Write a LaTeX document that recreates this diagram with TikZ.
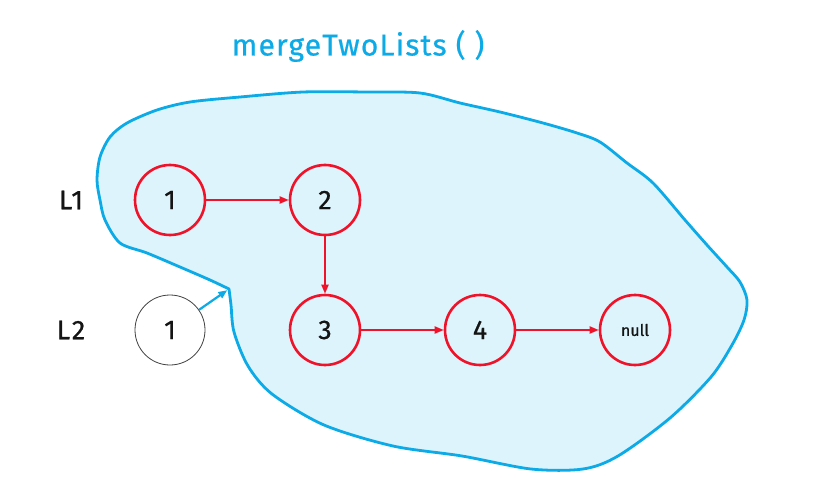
\documentclass[tikz,border=0pt]{standalone}
\usepackage{fontspec}
\setmainfont{Fira Sans}[FakeBold=0.6]
\usetikzlibrary{arrows.meta}
\definecolor{blobline}{RGB}{12,170,230}
\definecolor{blobfill}{RGB}{221,244,252}
\definecolor{nodered}{RGB}{240,18,40}
\definecolor{txt}{RGB}{20,20,20}
\begin{document}
\begin{tikzpicture}[x=1pt,y=-1pt,
  listnode/.style={circle,draw=nodered,line width=2.6pt,minimum size=70pt,inner sep=0pt,text=txt,font=\fontsize{27}{27}\selectfont},
  plainnode/.style={circle,draw=black!75,line width=0.8pt,minimum size=70pt,inner sep=0pt,fill=white,text=txt,font=\fontsize{27}{27}\selectfont},
  link/.style={draw=nodered,line width=2pt,-{Triangle[length=9pt,width=7pt]}},
  lbl/.style={text=txt,font=\fontsize{27}{27}\selectfont\addfontfeatures{LetterSpace=8}},
  titlestyle/.style={text=blobline,font=\fontsize{30}{30}\selectfont\addfontfeatures{LetterSpace=4}}]
\useasboundingbox (0,0) rectangle (814,492);
\fill[white] (0,0) rectangle (814,492);
\draw[blobline, fill=blobfill, line width=2.8pt, line join=round]
  plot[smooth, tension=0.5] coordinates {
  (229,289) (231,305) (234,332) (248,366) (272,394) (324,425) (393,446) (462,456)
  (531,469) (583,469) (618,456) (670,418) (711,377) (732,345) (744,320) (747,300)
  (740,282) (727,267) (707,245) (685,220) (653,183) (627,163) (600,142) (577,133)
  (543,123) (500,112) (460,103) (420,93) (367,92) (303,92) (240,97) (190,102)
  (157,110) (127,123) (110,137) (100,157) (97,180) (100,200) (105,220) (120,243)
  (147,253) (180,267) (210,280) (229,289)} -- cycle;
\node[titlestyle] (title) at (358,46) {mergeTwoLists ( )};
\node[lbl] (L1) at (71,200) {L1};
\node[lbl] (L2) at (71,330) {L2};
\node[listnode] (a1) at (170,200) {1};
\node[listnode] (a2) at (325,200) {2};
\node[listnode] (a3) at (325,330) {3};
\node[listnode] (a4) at (480,330) {4};
\node[listnode, font=\fontsize{16}{16}\selectfont] (nl) at (635,330) {null};
\node[plainnode] (b1) at (170,330) {1};
\coordinate (notch) at (229,289);
\draw[link] (a1) -- (a2);
\draw[link] (a2) -- (a3);
\draw[link] (a3) -- (a4);
\draw[link] (a4) -- (nl);
\draw[blobline, line width=2.2pt, -{Triangle[length=9pt,width=7pt]}, shorten >=2pt] (b1) -- (notch);
\end{tikzpicture}
\end{document}
